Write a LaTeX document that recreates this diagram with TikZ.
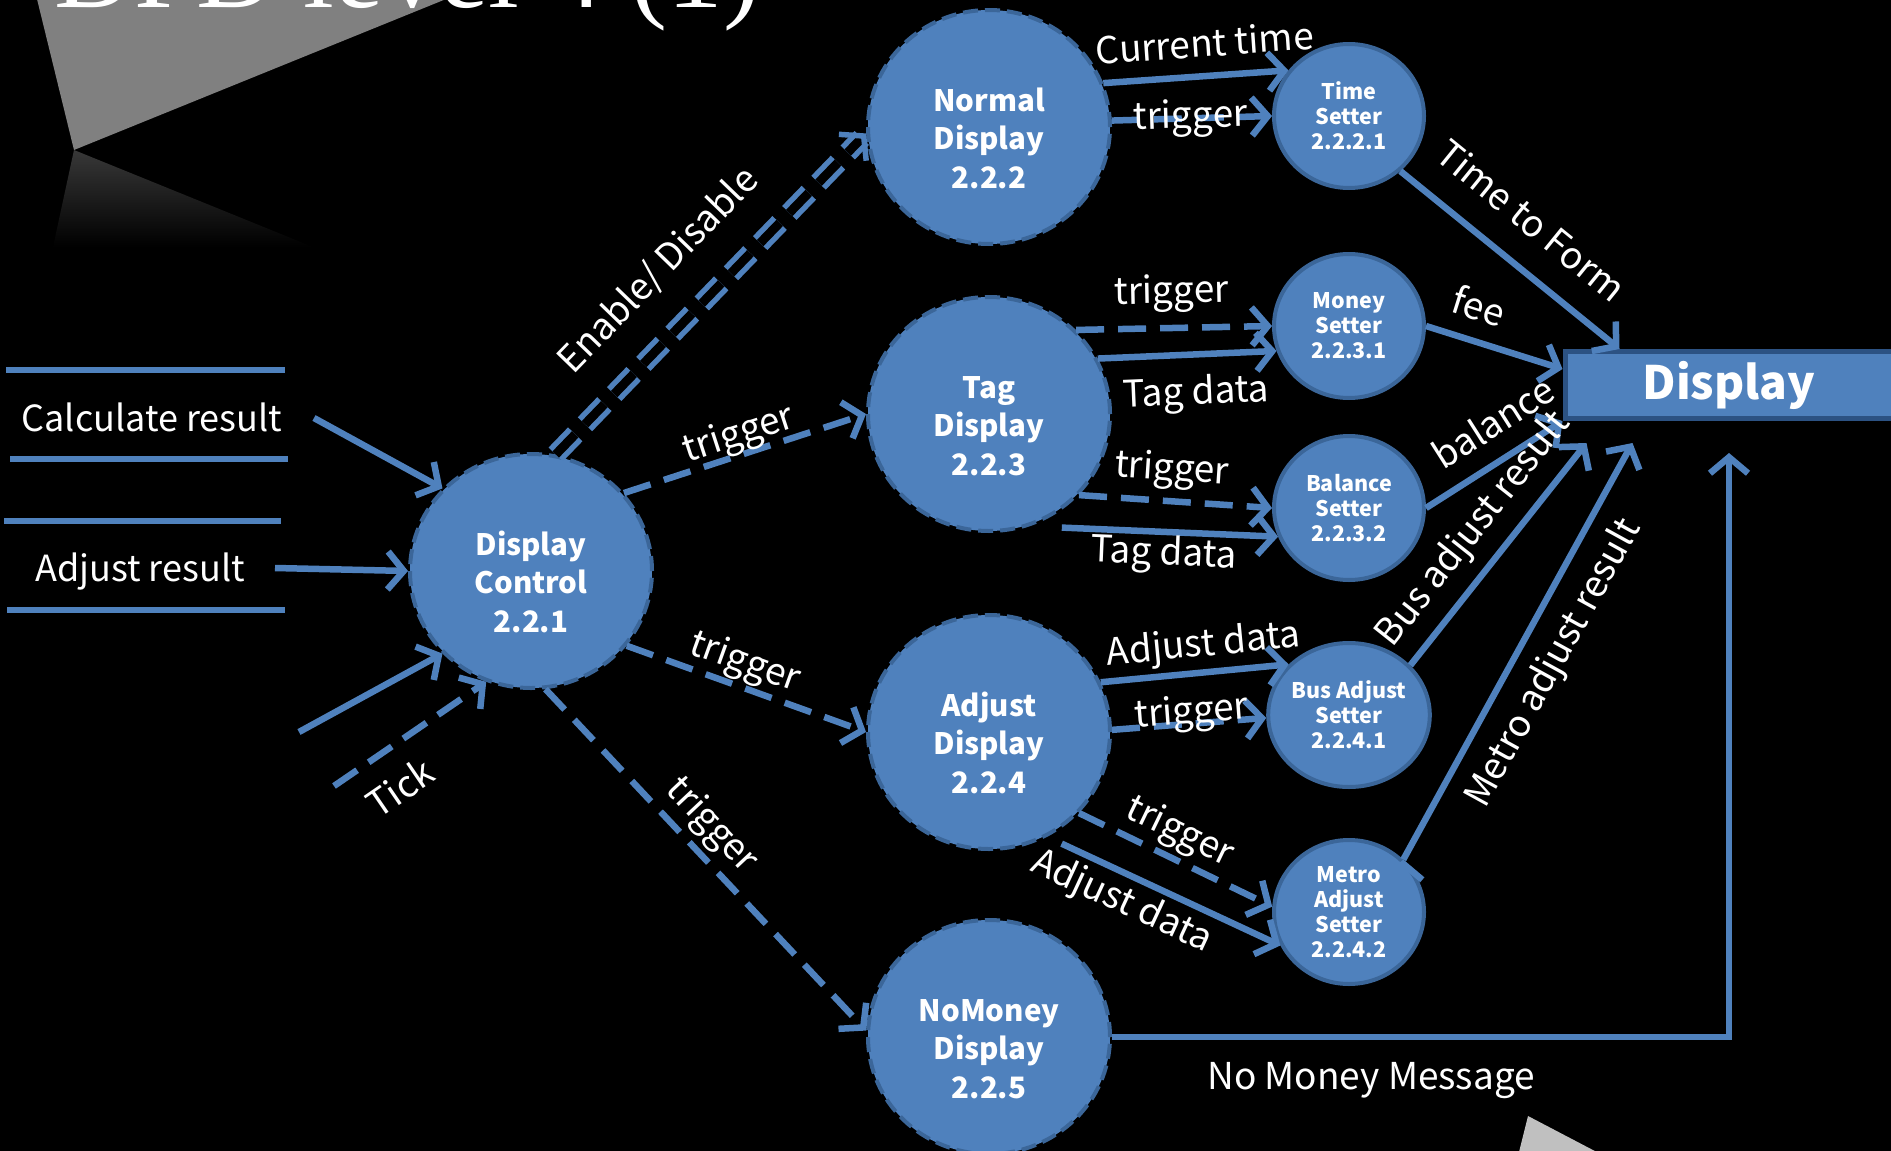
\documentclass[tikz,border=0pt]{standalone}
\usepackage{fontspec}
\setmainfont{Noto Sans CJK KR}
\newfontfamily\titlefont{Liberation Serif}
\usetikzlibrary{shapes.geometric, arrows.meta, positioning}

\definecolor{dfdblue}{HTML}{4F81BD}
\definecolor{dfdedge}{HTML}{3B6699}
\definecolor{dfdbox}{HTML}{2C5283}
\definecolor{wedgegray}{HTML}{808080}
\definecolor{cornergray}{HTML}{C0C0C0}

\begin{document}
\begin{tikzpicture}[x=1pt, y=-1pt, node distance=200pt, on grid,
    proc/.style={ellipse, fill=dfdblue, draw=dfdedge, line width=4pt,
      dash pattern=on 15pt off 7pt, minimum width=242pt, minimum height=234pt,
      inner sep=0pt, align=center, text=white,
      font=\fontsize{29.5}{38.5}\selectfont\bfseries},
    setter/.style={ellipse, fill=dfdblue, draw=dfdedge, line width=4pt,
      minimum width=150pt, minimum height=144pt, inner sep=0pt,
      align=center, text=white, font=\fontsize{21.5}{25}\selectfont\bfseries},
    sink/.style={rectangle, fill=dfdblue, draw=dfdbox, line width=5pt,
      minimum width=328pt, minimum height=67pt, text=white,
      font=\fontsize{46}{55}\selectfont\bfseries},
    store/.style={text=white, font=\fontsize{36}{42}\selectfont,
      text height=27pt, text depth=7.9pt},
    storeline/.style={draw=dfdblue, line width=6pt},
    lbl/.style={text=white, font=\fontsize{37}{42}\selectfont, inner sep=0pt,
      text height=27.75pt, text depth=8.1pt, sloped},
    flow/.style={draw=dfdblue, line width=6.5pt,
      -{Straight Barb[length=16pt, width=38pt]}},
    trig/.style={flow, dash pattern=on 28pt off 14pt},
    dbl/.style={trig, line width=5.5pt, double=black, double distance=9pt}]

  \useasboundingbox (0,0) rectangle (1891,1151);
  \fill[black] (0,0) rectangle (1891,1151);
  \clip (0,0) rectangle (1891,1151);

  % slide background
  \fill[wedgegray] (36,-5) -- (456,-5) -- (74,150) -- cycle;
  \shade[top color=black!78, bottom color=black] (74,150) -- (313,247) -- (53,247) -- cycle;
  \fill[cornergray] (1528,1116) -- (1612,1160) -- (1517,1160) -- cycle;
  \node[anchor=base west, inner sep=0pt, text=white,
    font=\titlefont\fontsize{111}{120}\selectfont] (title) at (54,8) {DFD level 4 (1)};

  % data stores
  \node[store] (calc) at (152,422) {Calculate result};
  \node[store] (adjres) at (140,572) {Adjust result};
  \draw[storeline] (6,370) -- (285,370);
  \draw[storeline] (10,459) -- (288,459);
  \draw[storeline] (4,521) -- (281,521);
  \draw[storeline] (7,610) -- (285,610);
  \coordinate (calcout) at (314,418);
  \coordinate (adjout) at (275,568);
  \coordinate (clockin) at (299,732);
  \coordinate (tickin) at (334,786);

  % processes
  \node[proc] (ctrl) at (531,571) {\mbox{}\\[7pt]Display\\Control\\2.2.1};
  \node[proc] (normal) [above right=444pt and 458pt of ctrl] {\mbox{}\\[7pt]Normal\\Display\\2.2.2};
  \node[proc] (tagd) [below=287pt of normal] {\mbox{}\\[7pt]Tag\\Display\\2.2.3};
  \node[proc] (adjd) [below=318pt of tagd] {\mbox{}\\[7pt]Adjust\\Display\\2.2.4};
  \node[proc] (nomoney) [below=305pt of adjd] {\mbox{}\\[7pt]NoMoney\\Display\\2.2.5};
  \node[setter] (timeset) [above right=11pt and 360pt of normal] {Time\\Setter\\2.2.2.1};
  \node[setter] (moneyset) [below=210pt of timeset] {Money\\Setter\\2.2.3.1};
  \node[setter] (balset) [below=182pt of moneyset] {Balance\\Setter\\2.2.3.2};
  \node[setter] (busset) [below=207pt of balset] {Bus Adjust\\Setter\\2.2.4.1};
  \node[setter] (metroset) [below=197pt of busset] {Metro\\Adjust\\Setter\\2.2.4.2};
  \node[sink] (disp) at (1729,385) {Display};

  % flows
  \path[flow]
    (calcout) edge (ctrl.137)
    (adjout) edge (ctrl.west)
    (clockin) edge (ctrl.223)
    (tickin) edge[trig] node[lbl, below=22pt, pos=0.29] {Tick} (ctrl.248)
    (ctrl.78) edge[dbl] node[lbl, above=31.5pt, pos=0.456] {Enable/ Disable} (normal.183)
    (ctrl.40) edge[trig] node[lbl, above=-2pt, pos=0.5] {trigger} (tagd.west)
    (ctrl.-38) edge[trig] node[lbl, above=2.5pt, pos=0.46] {trigger} (adjd.west)
    (ctrl.-83) edge[trig] node[lbl, above=6pt, pos=0.455] {trigger} (nomoney.177)
    (normal.21) edge node[lbl, above=8pt, pos=0.56] {Current time} (timeset.143)
    (normal.3) edge[trig] node[lbl, pos=0.49] {trigger} (timeset.west)
    (tagd.44) edge[trig] node[lbl, above=13.5pt, pos=0.49] {trigger} (moneyset.west)
    (tagd.27) edge node[lbl, below=19pt, pos=0.54] {Tag data} (moneyset.199)
    (tagd.-42) edge[trig] node[lbl, above=9.5pt, pos=0.47] {trigger} (balset.west)
    (tagd.-70) edge[shorten <=32pt] node[lbl, below=2pt, pos=0.544] {Tag data} (balset.202)
    (adjd.24.5) edge node[lbl, above=5pt, pos=0.56] {Adjust data} (busset.140)
    (adjd.1) edge[trig] node[lbl, above=-11pt, pos=0.52] {trigger} (busset.182)
    (adjd.-42) edge[trig] node[lbl, above=5pt, pos=0.46] {trigger} (metroset.176)
    (adjd.-61) edge[shorten <=16pt] node[lbl, below=7pt, pos=0.37] {Adjust data} (metroset.206)
    (timeset.-47) edge node[lbl, above=19pt, pos=0.47] {Time to Form} ([xshift=57pt]disp.north west)
    (moneyset.east) edge node[lbl, above=9.5pt, pos=0.31] {fee} ([yshift=-20pt]disp.north west)
    (balset.east) edge node[lbl, above=11pt, pos=0.636] {balance} (disp.south west)
    (busset.39) edge node[lbl, above=13pt, pos=0.514] {Bus adjust result} ([xshift=24pt,yshift=-22pt]disp.south west)
    (metroset.44) edge node[lbl, below=17pt, pos=0.514] {Metro adjust result} ([xshift=70pt,yshift=-22pt]disp.south west);
  \draw[flow] (nomoney.east) -| node[lbl, below=21.5pt, pos=0.21] {No Money Message} ([yshift=-32pt]disp.south);
\end{tikzpicture}
\end{document}
